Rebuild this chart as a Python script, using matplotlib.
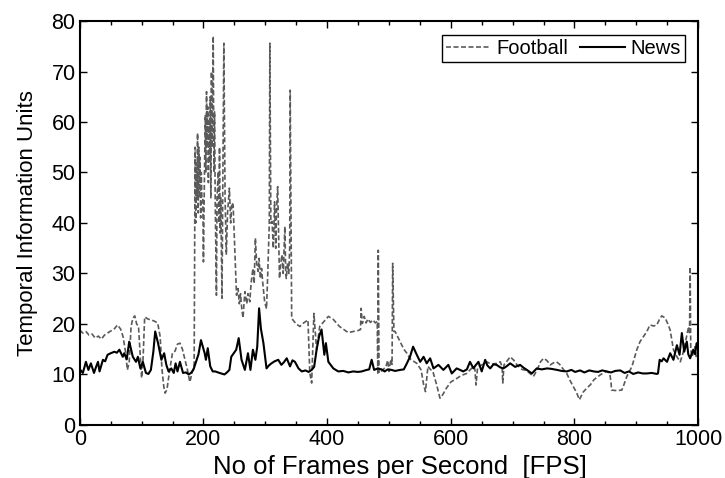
import matplotlib
matplotlib.use("Agg")
import matplotlib.pyplot as plt
from matplotlib.ticker import MultipleLocator

# Football (dashed) - frame index and temporal information
football_frames = [
    0, 5, 10, 15, 20, 25, 30, 35, 40, 45, 50, 55, 61, 66, 70, 74, 77, 80, 83, 86,
    89, 92, 95, 98, 100, 102, 105, 110, 115, 120, 126, 130, 133, 136, 138, 141, 145, 150, 154, 158,
    162, 166, 170, 174, 178, 182, 185, 186.5, 187.5, 188.5, 189.5, 190.5, 191.5, 192.5, 193.5, 194.5,
    195.5, 196.5, 197.5, 199, 200, 201.5, 203, 204, 205, 206, 207, 208, 209, 210,
    211, 212, 213, 214, 215.8, 217, 218, 219, 221, 222, 224, 225, 226, 227, 228, 230,
    233, 235, 237, 239, 242, 244, 246, 248, 251, 253.5, 256, 258, 260, 262, 264, 267,
    270, 272, 275, 277, 280, 282, 284, 286, 288.5, 290, 292, 294, 296, 299, 302, 304,
    306.5, 307.4, 309, 311, 313, 315, 317, 318, 320, 322, 323, 325, 327, 329, 331.7, 333,
    334, 336, 338, 339.5, 340.3, 342.7, 350, 356, 362, 369, 372, 375, 378.6, 383, 388, 395,
    402, 410, 420, 434, 450, 454, 455, 457, 460, 463, 466, 470, 474, 478, 481, 482,
    482.7, 484, 490, 495, 498, 500, 503, 505, 506, 508, 510, 518, 524, 529, 535, 545,
    552, 556, 559, 563, 567, 571, 577, 582.5, 587, 593, 600, 609.5, 617, 625.7, 632, 636.6,
    639, 640.8, 643, 645, 652, 658, 666, 674, 680, 683, 684, 686, 690, 696, 702, 707,
    715, 722, 728, 733.6, 740, 745, 750, 755, 761, 766, 771, 776, 782, 787.5, 792, 798,
    803, 808, 814, 820, 826, 831, 836, 841.4, 847, 852, 857, 859, 860, 868, 876.5, 880,
    884.6, 893, 900.8, 906, 911.5, 917, 922, 928, 933, 937, 941, 946.6, 951, 954.7, 960, 965.6,
    971, 975, 979, 984.6, 986, 987, 988, 990, 993, 995, 997, 1000]
football_values = [
    18.8, 18.2, 18.5, 17.8, 18.0, 17.2, 17.6, 17.0, 17.8, 18.2, 18.6, 18.9, 19.8, 19.0, 17.5, 14.5, 10.9, 12.5, 19.5, 21.2,
    21.6, 20.0, 19.5, 13.5, 9.3, 12.0, 21.4, 21.0, 20.8, 20.6, 20.2, 17.5, 11.0, 7.5, 6.3, 7.0, 10.5, 14.3, 14.6, 16.0,
    16.2, 15.0, 13.0, 11.0, 8.5, 10.5, 12.0, 55.0, 40.0, 52.0, 45.0, 57.8, 42.0, 55.0, 45.0, 53.0,
    41.0, 50.0, 45.0, 45.0, 32.3, 48.0, 61.4, 50.0, 66.0, 55.0, 63.0, 48.0, 60.0, 52.0,
    65.0, 45.0, 70.0, 55.0, 77.0, 50.0, 62.0, 45.0, 25.7, 45.0, 50.2, 40.0, 55.0, 38.0, 45.0, 25.1,
    75.6, 45.0, 33.7, 42.0, 46.9, 40.0, 44.0, 43.6, 33.7, 25.7, 27.0, 24.0, 26.0, 23.0, 21.2, 26.4,
    24.0, 26.0, 24.4, 28.0, 31.0, 28.0, 37.0, 32.0, 30.4, 33.0, 29.0, 31.0, 28.0, 24.4, 23.0, 30.0,
    40.0, 75.6, 40.0, 40.3, 35.0, 44.2, 35.0, 42.0, 47.2, 35.0, 29.0, 32.0, 33.7, 30.0, 39.3, 30.0,
    29.0, 32.0, 30.0, 35.0, 66.3, 21.1, 20.0, 19.5, 20.2, 20.8, 10.3, 8.3, 22.1, 14.9, 19.5, 20.5,
    21.5, 20.9, 19.5, 18.3, 18.7, 18.9, 23.1, 20.1, 21.5, 20.2, 21.0, 20.3, 20.8, 20.2, 20.5, 10.0,
    34.6, 10.3, 10.9, 11.5, 12.8, 10.6, 13.0, 12.0, 32.0, 18.5, 18.5, 16.5, 15.0, 14.2, 13.0, 12.2,
    10.9, 8.0, 6.6, 11.6, 11.0, 10.6, 8.0, 5.3, 6.0, 7.3, 8.5, 9.2, 9.8, 10.2, 11.0, 11.6,
    11.0, 7.9, 11.0, 11.6, 12.0, 12.5, 12.0, 12.2, 12.5, 11.5, 8.3, 11.9, 12.5, 13.5, 12.8, 11.9,
    11.0, 10.8, 10.2, 9.6, 11.0, 12.5, 13.2, 12.8, 11.9, 12.3, 12.5, 12.0, 11.0, 10.2, 9.0, 7.6,
    6.5, 5.0, 6.5, 7.3, 8.0, 8.9, 9.4, 9.9, 10.3, 10.6, 10.2, 8.5, 6.9, 6.8, 6.9, 8.0,
    9.6, 11.6, 14.9, 16.5, 17.5, 18.5, 19.8, 19.6, 19.8, 20.8, 21.6, 21.2, 20.0, 18.8, 14.9, 13.5,
    12.5, 14.0, 16.2, 19.5, 18.0, 31.3, 15.0, 13.5, 14.5, 15.5, 13.2, 14.0]

# News (solid)
news_frames = [
    0, 1, 5, 10, 14, 18, 23, 26.7, 29.5, 32, 37.5, 41, 45, 50, 56, 60, 64, 69.6, 72, 76,
    80, 85.8, 91, 94, 98, 102, 107, 111, 115, 119, 122, 126.6, 132, 136.5, 140, 143.6, 148, 152, 155, 158,
    162, 167, 172, 176, 180, 184, 188, 192, 196, 199, 202, 204, 207, 211, 215, 219, 226, 234, 238, 242,
    245, 249, 253, 257, 261.6, 267, 272, 276, 280, 284, 287, 290, 293, 297, 302, 306, 310, 315, 321, 326,
    330, 334.7, 340, 344, 348, 353.7, 359, 365, 370, 375, 379, 383, 387, 391, 395.5, 398, 402, 410, 418, 426,
    434.5, 442, 450, 456, 464, 468, 472, 476, 482, 488, 493, 498, 504, 510, 518, 524, 529, 534, 539, 545,
    550.5, 556, 561, 566.6, 572, 580, 588, 596, 601.6, 609.5, 615, 620, 626, 631, 636.6, 640, 644.7, 650, 655.6, 659,
    663.7, 669, 674, 680, 685, 690, 696, 704, 712, 718, 723, 731, 739, 747, 755.6, 763, 771.8, 779, 787.5, 795,
    801, 809, 816, 824, 831, 838, 845, 852, 859, 866, 874, 881, 888, 895, 903, 910, 917, 925, 933, 935,
    937.7, 941, 944, 949.6, 954.7, 960, 965.6, 969.9, 973.6, 977.4, 981.6, 984, 987, 992, 995, 997.5, 1000]
news_values = [
    10.5, 10.9, 10.3, 12.5, 10.9, 12.2, 10.3, 11.6, 12.5, 10.6, 12.9, 12.6, 13.9, 14.2, 14.5, 14.3, 14.9, 13.5, 14.2, 13.0,
    16.5, 13.5, 12.5, 13.5, 11.2, 12.5, 10.3, 10.1, 10.9, 14.5, 18.5, 16.2, 12.9, 14.2, 11.9, 10.6, 11.2, 10.3, 12.2, 10.6,
    12.5, 10.3, 10.4, 10.0, 10.3, 11.0, 12.5, 14.0, 16.8, 15.5, 14.2, 12.9, 15.2, 11.6, 10.6, 10.6, 10.3, 10.0, 10.4, 10.9,
    13.5, 14.2, 14.9, 17.2, 12.9, 10.9, 14.2, 10.9, 14.9, 12.9, 15.5, 23.1, 19.0, 16.2, 11.2, 11.8, 12.2, 12.6, 12.9, 11.9,
    12.4, 13.2, 11.6, 12.8, 12.5, 11.2, 10.6, 10.8, 10.5, 10.9, 11.5, 14.9, 17.5, 18.9, 13.9, 16.2, 12.5, 11.2, 10.6, 10.7,
    10.4, 10.6, 10.5, 10.6, 10.9, 11.0, 12.9, 10.9, 11.2, 11.0, 10.6, 11.0, 10.9, 10.7, 10.9, 11.0, 12.2, 13.5, 15.5, 13.9,
    12.5, 13.5, 12.2, 13.2, 11.2, 11.9, 10.9, 11.9, 10.2, 11.2, 10.9, 10.6, 11.0, 12.5, 11.2, 11.8, 12.5, 10.6, 12.9, 11.8,
    11.2, 12.0, 11.9, 11.4, 11.2, 11.6, 12.2, 11.5, 11.9, 11.3, 10.9, 10.2, 11.2, 11.0, 11.2, 11.1, 10.9, 10.7, 10.6, 10.9,
    10.5, 10.8, 10.4, 10.8, 10.6, 10.5, 10.8, 10.6, 10.4, 10.7, 10.8, 10.3, 10.6, 10.1, 10.4, 10.2, 10.2, 10.3, 10.1, 10.2,
    12.9, 12.6, 13.2, 12.5, 14.2, 12.9, 15.8, 13.9, 18.2, 14.5, 16.5, 14.0, 13.2, 14.9, 14.0, 16.2, 15.0]

plt.rcParams['font.family'] = ['Liberation Sans', 'DejaVu Sans']

fig, ax = plt.subplots(figsize=(7.25, 4.78), dpi=100)
fig.subplots_adjust(left=0.110, right=0.963, bottom=0.111, top=0.956)

ax.plot(football_frames, football_values, color='#5a5a5a', lw=1.2,
        linestyle=(0, (3, 1.5)), label='Football')
ax.plot(news_frames, news_values, color='black', lw=1.5, label='News')

ax.set_xlim(0, 1000)
ax.set_ylim(0, 80)
ax.xaxis.set_major_locator(MultipleLocator(200))
ax.xaxis.set_minor_locator(MultipleLocator(50))
ax.yaxis.set_major_locator(MultipleLocator(10))
ax.tick_params(which='both', direction='in', top=True, right=True, labelsize=15.5)
ax.tick_params(which='major', length=5, width=1)
ax.tick_params(which='minor', length=3, width=1)
ax.tick_params(axis='x', pad=3)
ax.tick_params(axis='y', pad=3)
for s in ax.spines.values():
    s.set_linewidth(1.5)

ax.set_xlabel('No of Frames per Second  [FPS]', fontsize=18.5, labelpad=3)
ax.xaxis.set_label_coords(0.518, -0.075)
ax.set_ylabel('Temporal Information Units', fontsize=16, labelpad=10)

leg = ax.legend(loc='upper right', bbox_to_anchor=(0.979, 0.965), ncol=2,
                fontsize=14.5, frameon=True, fancybox=False, framealpha=1,
                edgecolor='black', borderaxespad=0, handlelength=2.2,
                handletextpad=0.3, columnspacing=0.6, borderpad=0.2)
leg.get_frame().set_linewidth(1.0)

fig.savefig('out.png', dpi=100)
